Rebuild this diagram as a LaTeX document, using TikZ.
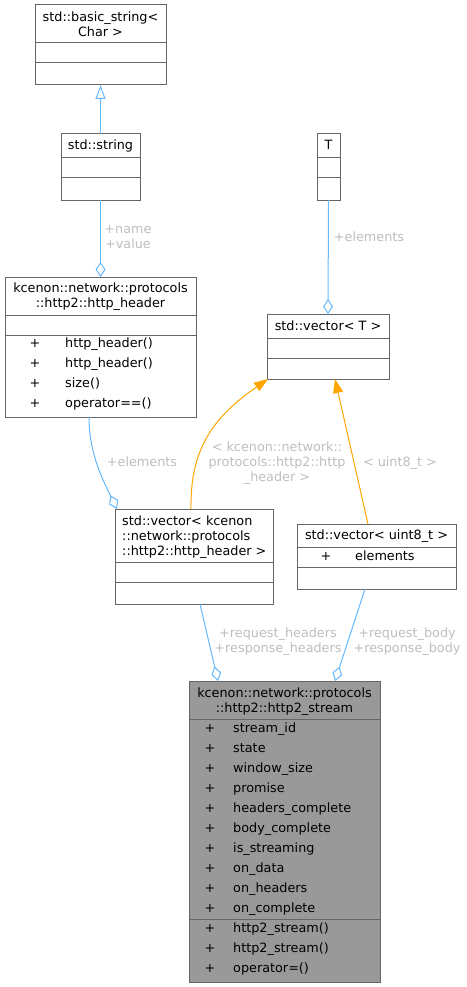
\documentclass[tikz,border=0pt]{standalone}
\usepackage{fontspec}
\setmainfont{DejaVu Sans}
\usetikzlibrary{arrows.meta}
\definecolor{boxline}{HTML}{666666}
\definecolor{usage}{HTML}{63B8FF}
\definecolor{tmpl}{HTML}{FFA500}
\definecolor{lblgray}{HTML}{BEBEBE}
\definecolor{mainfill}{HTML}{999999}
\tikzset{
	classbox/.style={draw=boxline, line width=1pt, fill=white, inner sep=0pt, outer sep=0pt},
	txt/.style={inner sep=0pt, font=\fontsize{12.8}{15}\selectfont},
	rowtxt/.style={txt, text height=9.5pt, text depth=2.5pt},
	lbl/.style={txt, text=lblgray, align=center},
	sep/.style={draw=boxline, line width=1pt},
	uses/.style={draw=usage, line width=1pt, -{Diamond[open, length=15pt, width=10pt]}},
	inherit/.style={draw=usage, line width=1pt, -{Triangle[open, length=14pt, width=10pt]}},
	instance/.style={draw=tmpl, line width=1pt, -{Triangle[length=14pt, width=10pt]}}
}
\begin{document}
\begin{tikzpicture}[x=1pt, y=-1pt]
		\useasboundingbox (0,0) rectangle (466,987);
		% basic_string
		\node[classbox, minimum width=131, minimum height=80] (basicstr) at (100.5,45) {};
		\draw[sep] (35,43) -- (166,43) (35,63) -- (166,63);
		\node[txt, align=center] (basicstrname) at (100.5,24.5) {std::basic\_string<\\Char >};
		% string
		\node[classbox, minimum width=79, minimum height=66] (strg) at (100.5,167) {};
		\draw[sep] (61,158) -- (140,158) (61,178) -- (140,178);
		\node[rowtxt] (strgname) at (100.5,146.5) {std::string};
		% T
		\node[classbox, minimum width=23, minimum height=66] (tcls) at (328.5,167) {};
		\draw[sep] (317,158) -- (340,158) (317,178) -- (340,178);
		\node[rowtxt] (tclsname) at (328.5,146.5) {T};
		% vector< T >
		\node[classbox, minimum width=122, minimum height=65] (vect) at (328,346.5) {};
		\draw[sep] (267,338) -- (389,338) (267,358) -- (389,358);
		\node[rowtxt] (vectname) at (328,326.5) {std::vector< T >};
		% http_header
		\node[classbox, minimum width=191, minimum height=140] (hdr) at (100.5,347) {};
		\draw[sep] (5,315) -- (196,315) (5,335) -- (196,335);
		\node[txt, align=center] (hdrname) at (100.5,297) {kcenon::network::protocols\\::http2::http\_header};
		\foreach \m [count=\i from 0] in {http\_header(), http\_header(), size(), operator==()} {
			\node[rowtxt] (hdrp\i) at (35,344+20*\i) {+};
			\node[rowtxt, anchor=west] (hdrm\i) at (65,344+20*\i) {\m};
		}
		% vector< http_header >
		\node[classbox, minimum width=158, minimum height=95] (vechdr) at (194,556.5) {};
		\draw[sep] (115,562) -- (273,562) (115,582) -- (273,582);
		\node[txt, align=left, anchor=west] (vechdrname) at (122,537) {std::vector< kcenon\\::network::protocols\\::http2::http\_header >};
		% vector< uint8_t >
		\node[classbox, minimum width=159, minimum height=65] (vecu8) at (376.5,556.5) {};
		\draw[sep] (297,547) -- (456,547) (297,567) -- (456,567);
		\node[rowtxt] (vecu8name) at (376.5,536) {std::vector< uint8\_t >};
		\node[rowtxt] (vecu8p) at (326,556.5) {+};
		\node[rowtxt, anchor=west] (vecu8m) at (355,556.5) {elements};
		% http2_stream
		\node[classbox, fill=mainfill, minimum width=191, minimum height=301] (stream) at (284.5,831.5) {};
		\draw[sep] (189,719) -- (380,719) (189,919) -- (380,919);
		\node[txt, align=center] (streamname) at (284.5,701.5) {kcenon::network::protocols\\::http2::http2\_stream};
		\foreach \m [count=\i from 0] in {stream\_id, state, window\_size, promise, headers\_complete,
			body\_complete, is\_streaming, on\_data, on\_headers, on\_complete,
			http2\_stream(), http2\_stream(), operator=()} {
			\node[rowtxt] (streamp\i) at (210,728.5+20*\i) {+};
			\node[rowtxt, anchor=west] (streamm\i) at (233,728.5+20*\i) {\m};
		}
		% connectors
		\draw[inherit] (strg.north) -- (basicstr.south);
		\draw[uses] (strg.south) -- (hdr.north);
		\node[lbl] (namelbl) at (128,237) {+name\\+value};
		\draw[uses] (tcls.south) -- (vect.north);
		\node[lbl] (telbl) at (369,237) {+elements};
		\draw[uses] ([xshift=-11.5]hdr.south) .. controls (89,455) and (104,482) .. ([xshift=-77]vechdr.north);
		\node[lbl] (hdrlbl) at (142,462) {+elements};
		\draw[instance] ([xshift=-3]vechdr.north) .. controls (190,450) and (212,418) .. ([xshift=1]vect.south west);
		\node[lbl] (hdrinst) at (277,463) {< kcenon::network::\\protocols::http2::http\\\_header >};
		\draw[instance] ([xshift=-8.5]vecu8.north) -- ([xshift=7]vect.south);
		\node[lbl] (u8inst) at (400,463) {< uint8\_t >};
		\draw[uses] ([xshift=6]vechdr.south) -- ([xshift=-66.5]stream.north);
		\node[lbl] (headlbl) at (278,641.5) {+request\_headers\\+response\_headers};
		\draw[uses] ([xshift=-11.5]vecu8.south) -- ([xshift=50.5]stream.north);
		\node[lbl] (bodylbl) at (407,641.5) {+request\_body\\+response\_body};
\end{tikzpicture}
\end{document}
